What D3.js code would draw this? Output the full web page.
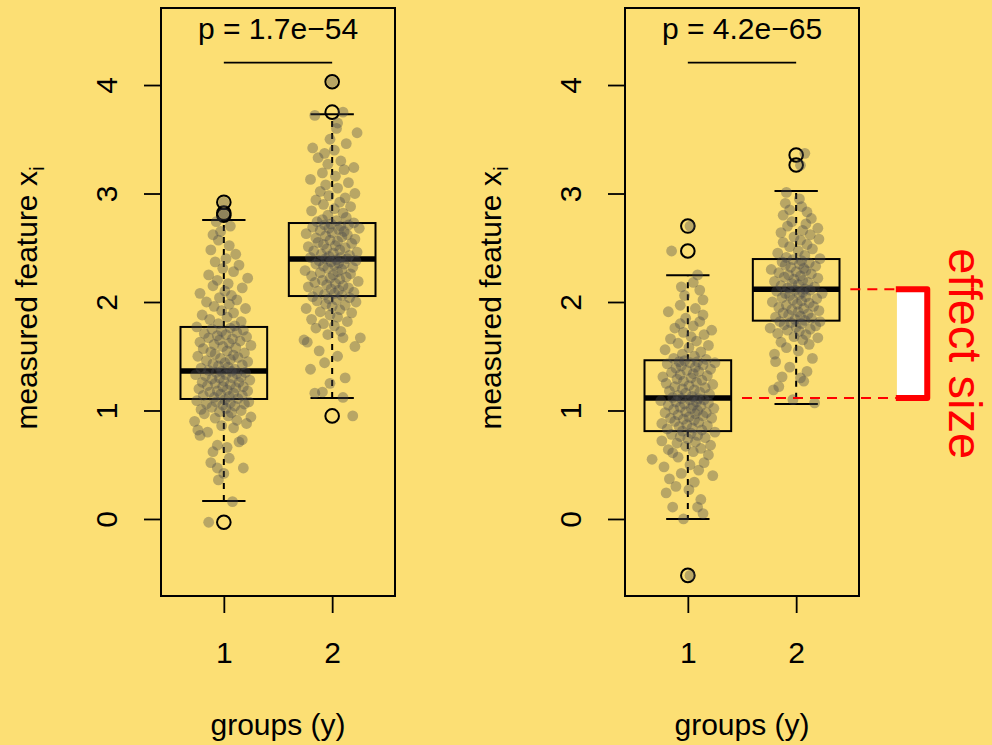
<!DOCTYPE html>
<html>
<head>
<meta charset="utf-8">
<script src="https://cdn.jsdelivr.net/npm/d3@7"></script>
<style>
  html, body { margin: 0; padding: 0; background: #FCDF74; }
  svg { display: block; }
  text { font-family: "Liberation Sans", Arial, Helvetica, sans-serif; }
</style>
</head>
<body>
<svg id="chart" width="992" height="745"></svg>
<script>
// ---- data ----
const groups = [1, 2];
const groupLabels = ["1", "2"];
const yTicks = [0, 1, 2, 3, 4];
const pLabels = ["p = 1.7e\u221254", "p = 4.2e\u221265"];
const xTitle = "groups (y)";
const yTitle = "measured feature x";
const yTitleSub = "i";
const annotation = "effect size";

// box summaries, [group 1, group 2] for each panel
const q1Left  = [1.106, 2.055];
const medLeft = [1.364, 2.396];
const q3Left  = [1.770, 2.728];
const loLeft  = [0.166, 1.115];
const hiLeft  = [2.756, 3.730];
const outLeft = [[2.92, 2.82, 2.80, -0.03], [4.03, 3.75, 0.95]];

const q1Right  = [0.810, 1.828];
const medRight = [1.115, 2.117];
const q3Right  = [1.463, 2.396];
const loRight  = [0.000, 1.060];
const hiRight  = [2.246, 3.023];
const outRight = [[2.70, 2.47, -0.52], [3.355, 3.263]];

// height of the comparison bar under the p-value
const barLevel = 4.207;

// jittered observations: [value, horizontal jitter]
const ptsLeft1 = [
[-0.03,-0.14],[0.16,0.08],[0.36,-0.05],[0.42,0.0],[0.47,-0.06],[0.47,0.18],[0.52,-0.12],[0.56,0.05],[0.62,-0.10],[0.66,0.03],
[0.68,-0.06],[0.71,0.14],[0.73,0.17],[0.77,-0.22],[0.80,-0.15],[0.82,-0.24],[0.84,0.09],[0.86,-0.02],[0.88,0.21],[0.90,-0.27],
[0.91,0.12],[0.93,-0.08],[0.94,0.25],[0.95,0.04],[0.97,-0.18],[0.98,0.07],[0.99,-0.04],[1.00,0.16],[1.01,-0.21],[1.02,0.02],
[1.03,-0.11],[1.04,0.10],[1.05,-0.01],[1.06,0.19],[1.06,-0.16],[1.07,0.06],[1.08,-0.07],[1.08,0.23],[1.09,-0.25],[1.10,0.01],
[1.11,0.13],[1.12,-0.09],[1.13,0.05],[1.14,-0.19],[1.14,0.17],[1.15,-0.03],[1.16,0.09],[1.17,-0.13],[1.18,0.22],[1.18,-0.06],
[1.19,0.03],[1.20,-0.23],[1.21,0.11],[1.22,-0.01],[1.22,0.18],[1.23,-0.15],[1.24,0.06],[1.25,-0.08],[1.26,0.14],[1.26,-0.20],
[1.27,0.00],[1.28,0.24],[1.29,-0.11],[1.30,0.08],[1.30,-0.04],[1.31,0.16],[1.32,-0.17],[1.33,0.02],[1.33,-0.26],[1.34,0.12],
[1.35,-0.07],[1.35,0.20],[1.36,-0.02],[1.36,0.07],[1.37,-0.14],[1.38,0.10],[1.39,-0.21],[1.40,0.04],[1.41,-0.05],[1.42,0.17],
[1.43,-0.10],[1.44,0.01],[1.45,0.22],[1.46,-0.16],[1.47,0.06],[1.48,-0.03],[1.49,0.13],[1.50,-0.24],[1.51,0.09],[1.52,-0.08],
[1.53,0.19],[1.54,-0.12],[1.55,0.03],[1.57,-0.19],[1.58,0.11],[1.59,-0.01],[1.60,0.25],[1.61,-0.09],[1.62,0.05],[1.63,-0.22],
[1.64,0.15],[1.65,-0.04],[1.66,0.08],[1.67,-0.14],[1.68,0.21],[1.69,-0.06],[1.70,0.02],[1.71,-0.18],[1.72,0.12],[1.73,-0.02],
[1.74,0.18],[1.75,-0.11],[1.76,0.06],[1.77,-0.25],[1.78,0.10],
[1.80,-0.05],[1.82,0.16],[1.84,-0.13],[1.86,0.03],[1.88,-0.20],[1.90,0.09],[1.92,-0.02],[1.94,0.20],[1.96,-0.09],[1.98,0.05],
[2.00,-0.16],[2.02,0.12],[2.04,-0.04],[2.06,0.07],[2.08,-0.22],[2.10,0.01],[2.13,0.17],[2.15,-0.10],[2.17,0.04],[2.20,-0.06],
[2.22,0.22],[2.25,-0.14],[2.28,0.09],[2.31,-0.01],[2.34,0.14],[2.37,-0.08],[2.40,0.02],[2.44,0.11],[2.48,-0.12],[2.52,0.05],
[2.57,-0.05],[2.62,-0.10],[2.65,-0.03],[2.70,0.06],[2.74,-0.07],[2.80,0.0],[2.82,0.0],[2.92,0.0]
];
const ptsLeft2 = [
[0.95,0.19],[1.12,0.10],[1.16,-0.16],[1.17,-0.09],[1.25,-0.02],[1.30,0.12],[1.38,-0.20],[1.44,-0.07],[1.50,0.05],[1.55,-0.12],
[1.59,0.21],[1.63,-0.23],[1.65,-0.26],[1.67,0.10],[1.67,0.26],[1.70,-0.04],[1.73,0.08],[1.76,-0.15],[1.78,0.02],[1.80,-0.08],
[1.82,0.14],[1.84,-0.19],[1.86,0.05],[1.88,-0.02],[1.90,0.18],[1.91,-0.11],[1.93,0.07],[1.94,-0.24],[1.96,0.00],[1.97,0.12],
[1.98,-0.06],[2.00,0.22],[2.01,-0.14],[2.02,0.04],[2.03,-0.03],[2.04,0.16],[2.05,-0.18],[2.06,0.09],
[2.07,-0.07],[2.08,0.02],[2.09,0.20],[2.10,-0.13],[2.11,0.06],[2.12,-0.01],[2.13,0.15],[2.14,-0.22],[2.15,0.10],[2.16,-0.05],
[2.17,0.03],[2.18,-0.16],[2.19,0.24],[2.20,-0.09],[2.21,0.07],[2.22,-0.02],[2.23,0.13],[2.24,-0.19],[2.25,0.01],[2.26,0.17],
[2.27,-0.11],[2.28,0.05],[2.29,-0.25],[2.30,0.09],[2.31,-0.04],[2.32,0.19],[2.33,-0.08],[2.34,0.02],[2.35,0.11],[2.35,-0.15],
[2.36,0.06],[2.37,-0.01],[2.38,0.22],[2.38,-0.12],[2.39,0.04],[2.40,-0.06],[2.40,0.14],[2.41,-0.20],[2.41,0.08],
[2.42,-0.03],[2.43,0.16],[2.44,-0.10],[2.45,0.01],[2.46,0.23],[2.47,-0.17],[2.48,0.07],[2.49,-0.05],[2.50,0.12],[2.51,-0.22],
[2.52,0.03],[2.53,-0.08],[2.54,0.18],[2.55,-0.13],[2.56,0.05],[2.57,-0.02],[2.58,0.21],[2.59,-0.15],[2.60,0.09],[2.61,-0.06],
[2.62,0.14],[2.63,-0.24],[2.64,0.00],[2.65,0.11],[2.66,-0.11],[2.67,0.06],[2.68,-0.03],[2.68,0.25],[2.69,-0.18],[2.70,0.08],
[2.71,-0.07],[2.71,0.15],[2.72,-0.01],[2.73,0.20],[2.74,-0.14],[2.75,0.04],[2.76,-0.09],[2.78,0.13],[2.80,-0.04],
[2.82,0.10],[2.84,-0.19],[2.86,0.02],[2.88,0.17],[2.90,-0.08],[2.92,0.07],[2.94,-0.15],[2.96,0.12],[2.98,-0.03],[3.00,0.21],
[3.02,-0.11],[3.05,0.05],[3.08,-0.06],[3.10,0.15],[3.13,-0.20],[3.16,0.03],[3.19,-0.09],[3.22,0.11],[3.24,0.20],[3.27,-0.04],
[3.30,0.08],[3.33,-0.13],[3.37,-0.07],[3.40,0.02],[3.42,-0.18],[3.46,0.13],[3.50,-0.02],[3.56,0.23],[3.60,0.04],[3.65,0.05],
[3.72,-0.16],[3.75,0.10],[4.03,0.00]
];
const ptsRight1 = [
[-0.52,0.02],[0.00,-0.04],[0.05,0.14],[0.11,-0.14],[0.11,0.09],[0.18,0.12],[0.24,-0.20],[0.27,0.01],[0.30,-0.11],[0.34,0.06],
[0.37,-0.17],[0.40,0.23],[0.42,-0.06],[0.45,0.10],[0.48,-0.22],[0.50,0.02],[0.52,0.15],[0.55,-0.33],[0.57,-0.09],[0.59,0.19],
[0.61,-0.14],[0.62,0.05],[0.64,-0.18],[0.65,0.12],[0.67,-0.02],[0.68,0.21],[0.70,-0.10],[0.71,0.07],[0.72,-0.24],[0.74,0.00],
[0.75,0.16],[0.76,-0.07],[0.77,0.09],[0.78,-0.15],[0.79,0.03],[0.80,0.25],[0.81,-0.05],
[0.82,0.13],[0.83,-0.19],[0.84,0.04],[0.85,-0.08],[0.86,0.18],[0.87,-0.01],[0.88,-0.24],[0.89,0.10],[0.90,-0.12],[0.91,0.06],
[0.92,-0.04],[0.93,0.22],[0.93,-0.16],[0.94,0.01],[0.95,0.14],[0.96,-0.09],[0.97,0.07],[0.98,-0.21],[0.98,0.17],[0.99,-0.02],
[1.00,0.09],[1.01,-0.13],[1.02,0.03],[1.02,0.24],[1.03,-0.07],[1.04,0.12],[1.05,-0.18],[1.05,0.05],[1.06,-0.03],[1.07,0.19],
[1.08,-0.11],[1.08,0.08],[1.09,-0.25],[1.10,0.02],[1.10,0.15],[1.11,-0.06],[1.11,0.10],[1.12,-0.14],
[1.13,0.04],[1.14,-0.09],[1.15,0.20],[1.16,-0.02],[1.17,0.11],[1.18,-0.17],[1.19,0.06],[1.20,-0.05],[1.21,0.16],[1.22,-0.12],
[1.23,0.01],[1.24,0.23],[1.25,-0.20],[1.26,0.08],[1.27,-0.04],[1.28,0.13],[1.29,-0.10],[1.30,0.03],[1.31,-0.23],[1.32,0.18],
[1.33,-0.07],[1.34,0.05],[1.35,-0.15],[1.36,0.10],[1.37,-0.01],[1.38,0.21],[1.39,-0.11],[1.40,0.07],[1.41,-0.06],[1.42,0.14],
[1.43,-0.19],[1.44,0.02],[1.44,0.25],[1.45,-0.08],[1.45,0.09],[1.46,-0.03],[1.47,0.17],
[1.48,-0.13],[1.50,0.06],[1.52,-0.05],[1.54,0.12],[1.56,-0.21],[1.58,0.01],[1.60,0.19],[1.62,-0.09],[1.64,0.08],[1.66,-0.16],
[1.68,0.03],[1.70,0.15],[1.72,-0.04],[1.74,0.22],[1.76,-0.12],[1.78,0.05],[1.80,-0.07],[1.82,0.11],[1.85,-0.02],[1.88,0.14],
[1.91,-0.18],[1.94,0.07],[1.97,-0.07],[2.02,0.14],[2.06,-0.03],[2.11,0.11],[2.14,-0.06],[2.18,0.05],[2.25,0.09],[2.47,-0.15],
[2.70,0.02]
];
const ptsRight2 = [
[1.07,0.17],[1.10,-0.03],[1.19,-0.21],[1.22,-0.16],[1.27,0.07],[1.30,0.04],[1.31,-0.13],[1.36,0.10],[1.40,-0.06],[1.45,-0.19],
[1.48,0.15],[1.52,-0.20],[1.55,0.02],[1.58,-0.09],[1.61,0.12],[1.63,-0.14],[1.65,0.06],[1.67,0.20],[1.68,-0.02],[1.70,0.09],
[1.71,-0.17],[1.73,0.03],[1.74,-0.08],[1.75,0.13],[1.76,-0.24],[1.77,0.00],[1.78,0.18],[1.79,-0.11],[1.80,0.05],[1.81,-0.05],
[1.82,0.22],[1.82,-0.15],[1.83,0.08],
[1.84,-0.01],[1.85,0.14],[1.86,-0.19],[1.87,0.04],[1.88,-0.07],[1.89,0.11],[1.90,-0.12],[1.91,0.02],[1.92,0.21],[1.93,-0.04],
[1.94,0.07],[1.95,-0.16],[1.96,0.16],[1.97,-0.09],[1.98,0.01],[1.99,0.12],[2.00,-0.22],[2.01,0.05],[2.02,-0.03],[2.03,0.19],
[2.04,-0.13],[2.05,0.09],[2.06,-0.06],[2.07,0.03],[2.08,0.24],[2.08,-0.10],[2.09,0.06],[2.10,-0.18],[2.11,0.13],[2.11,-0.01],
[2.12,0.08],
[2.13,-0.08],[2.14,0.17],[2.15,-0.14],[2.16,0.02],[2.17,-0.04],[2.18,0.11],[2.19,-0.20],[2.20,0.06],[2.21,-0.02],[2.22,0.20],
[2.23,-0.11],[2.24,0.04],[2.25,-0.07],[2.26,0.14],[2.27,-0.16],[2.28,0.00],[2.29,0.09],[2.30,-0.23],[2.31,0.07],[2.32,-0.05],
[2.33,0.18],[2.34,-0.10],[2.35,0.03],[2.36,0.12],[2.37,-0.13],[2.38,0.05],[2.39,-0.03],[2.40,0.22],
[2.41,-0.09],[2.43,0.08],[2.45,-0.17],[2.47,0.02],[2.49,0.15],[2.51,-0.06],[2.53,0.10],[2.55,-0.12],[2.57,0.04],[2.58,0.21],
[2.60,-0.02],[2.62,0.13],[2.64,-0.14],[2.66,0.06],[2.68,0.20],[2.70,-0.08],[2.72,0.09],[2.74,-0.04],[2.77,0.14],[2.80,-0.12],
[2.83,0.10],[2.85,-0.06],[2.88,0.05],[2.91,-0.10],[2.95,0.03],[3.01,-0.09],[3.26,0.04],[3.37,0.08]
];

// ---- layout ----
const W = 992, H = 745;
const panelW = 234, panelH = 588, panelTop = 8;
const panelLefts = [161, 625];
const fontSize = 30;

const panels = [
  { q1: q1Left, med: medLeft, q3: q3Left, lo: loLeft, hi: hiLeft, out: outLeft, pts: [ptsLeft1, ptsLeft2], p: pLabels[0] },
  { q1: q1Right, med: medRight, q3: q3Right, lo: loRight, hi: hiRight, out: outRight, pts: [ptsRight1, ptsRight2], p: pLabels[1] }
];

const x = d3.scaleLinear().domain([0.42, 2.58]).range([0, panelW]);
const y = d3.scaleLinear().domain([-0.71, 4.71]).range([panelH, 0]);

const svg = d3.select("#chart");
svg.append("rect").attr("width", W).attr("height", H).attr("fill", "#FCDF74");

const boxW = 0.4, capW = 0.2;

panels.forEach((P, pi) => {
  const g = svg.append("g").attr("transform", `translate(${panelLefts[pi]},${panelTop})`);

  // boxes, whiskers, caps, outliers
  groups.forEach((grp, i) => {
    const bx = g.append("g");
    bx.append("line")
      .attr("x1", x(grp)).attr("x2", x(grp))
      .attr("y1", y(P.q3[i])).attr("y2", y(P.hi[i]))
      .attr("stroke", "#000").attr("stroke-width", 2).attr("stroke-dasharray", "6,6");
    bx.append("line")
      .attr("x1", x(grp)).attr("x2", x(grp))
      .attr("y1", y(P.q1[i])).attr("y2", y(P.lo[i]))
      .attr("stroke", "#000").attr("stroke-width", 2).attr("stroke-dasharray", "6,6");
    [P.hi[i], P.lo[i]].forEach(v => {
      bx.append("line")
        .attr("x1", x(grp - capW)).attr("x2", x(grp + capW))
        .attr("y1", y(v)).attr("y2", y(v))
        .attr("stroke", "#000").attr("stroke-width", 2);
    });
    bx.append("rect")
      .attr("x", x(grp - boxW)).attr("width", x(grp + boxW) - x(grp - boxW))
      .attr("y", y(P.q3[i])).attr("height", y(P.q1[i]) - y(P.q3[i]))
      .attr("fill", "none").attr("stroke", "#000").attr("stroke-width", 2);
    bx.append("line")
      .attr("x1", x(grp - boxW)).attr("x2", x(grp + boxW))
      .attr("y1", y(P.med[i])).attr("y2", y(P.med[i]))
      .attr("stroke", "#000").attr("stroke-width", 5.5);
    bx.selectAll("circle.out").data(P.out[i]).join("circle")
      .attr("class", "out")
      .attr("cx", x(grp)).attr("cy", d => y(d)).attr("r", 6.8)
      .attr("fill", "none").attr("stroke", "#000").attr("stroke-width", 2);
  });

  // jittered observations on top of the boxes
  groups.forEach((grp, i) => {
    g.append("g").selectAll("circle").data(P.pts[i]).join("circle")
      .attr("cx", d => x(grp + d[1]))
      .attr("cy", d => y(d[0]))
      .attr("r", 5.4)
      .attr("fill", "#4A4A4C")
      .attr("fill-opacity", 0.38);
  });

  // panel frame
  g.append("rect").attr("width", panelW).attr("height", panelH)
    .attr("fill", "none").attr("stroke", "#000").attr("stroke-width", 2);

  // y axis
  const ya = g.append("g").call(d3.axisLeft(y).tickValues(yTicks).tickSize(17).tickSizeOuter(0).tickFormat(d3.format("d")));
  ya.select(".domain").remove();
  ya.selectAll(".tick line").attr("stroke", "#000").attr("stroke-width", 1.8);
  ya.selectAll(".tick text")
    .attr("x", null).attr("dy", null)
    .attr("text-anchor", "middle")
    .attr("transform", "translate(-44,0) rotate(-90)")
    .attr("font-size", fontSize).attr("fill", "#000")
    .style("font-family", '"Liberation Sans", Arial, sans-serif');

  // x axis
  const xa = g.append("g").attr("transform", `translate(0,${panelH})`)
    .call(d3.axisBottom(x).tickValues(groups).tickSize(17).tickSizeOuter(0).tickFormat((d, k) => groupLabels[k]));
  xa.select(".domain").remove();
  xa.selectAll(".tick line").attr("stroke", "#000").attr("stroke-width", 1.8);
  xa.selectAll(".tick text")
    .attr("y", 67).attr("dy", null)
    .attr("font-size", fontSize).attr("fill", "#000")
    .style("font-family", '"Liberation Sans", Arial, sans-serif');

  // axis titles
  g.append("text")
    .attr("x", panelW / 2).attr("y", 727)
    .attr("text-anchor", "middle").attr("font-size", fontSize)
    .text(xTitle);
  const yt = g.append("text")
    .attr("text-anchor", "middle").attr("font-size", fontSize)
    .attr("transform", `translate(-124,${y(2) - 4}) rotate(-90)`);
  yt.append("tspan").text(yTitle);
  yt.append("tspan").attr("dy", 7).attr("font-size", 21).text(yTitleSub);

  // p-value and comparison bar
  g.append("text")
    .attr("x", panelW / 2).attr("y", 31)
    .attr("text-anchor", "middle").attr("font-size", fontSize)
    .text(P.p);
  g.append("line")
    .attr("x1", x(groups[0])).attr("x2", x(groups[1]))
    .attr("y1", y(barLevel)).attr("y2", y(barLevel))
    .attr("stroke", "#000").attr("stroke-width", 1.8);
});

// effect-size annotation between the two medians of the right panel
const ga = svg.append("g").attr("transform", `translate(${panelLefts[1]},${panelTop})`);
const mLow = medRight[0], mHigh = medRight[1];
ga.append("line")
  .attr("x1", x(1.5)).attr("x2", x(2.92))
  .attr("y1", y(mLow)).attr("y2", y(mLow))
  .attr("stroke", "#FF0000").attr("stroke-width", 2).attr("stroke-dasharray", "10,7");
ga.append("line")
  .attr("x1", x(2.5)).attr("x2", x(2.92))
  .attr("y1", y(mHigh)).attr("y2", y(mHigh))
  .attr("stroke", "#FF0000").attr("stroke-width", 2).attr("stroke-dasharray", "10,7");
ga.append("rect")
  .attr("x", x(2.93)).attr("width", x(3.19) - x(2.93))
  .attr("y", y(mHigh)).attr("height", y(mLow) - y(mHigh))
  .attr("fill", "#FFFFFF");
ga.append("path")
  .attr("d", `M${x(2.92)},${y(mHigh)} H${x(3.21)} V${y(mLow)} H${x(2.92)}`)
  .attr("fill", "none").attr("stroke", "#FF0000").attr("stroke-width", 6)
  .attr("stroke-linejoin", "round").attr("stroke-linecap", "butt");
ga.append("text")
  .attr("text-anchor", "middle").attr("font-size", 47).attr("fill", "#FF0000")
  .attr("transform", `translate(${x(3.21) + 22},${y((mLow + mHigh) / 2) + 10}) rotate(90)`)
  .text(annotation);
</script>
</body>
</html>
